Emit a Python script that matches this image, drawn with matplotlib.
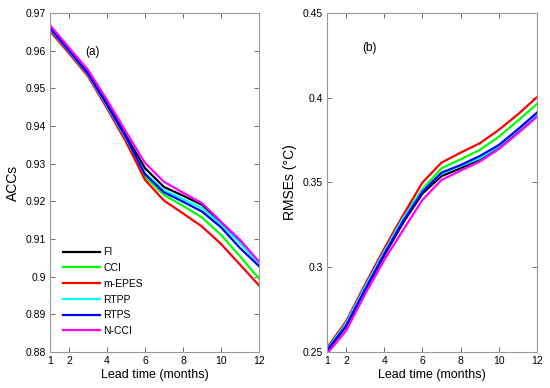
import numpy as np
import matplotlib
matplotlib.use("Agg")
import matplotlib.pyplot as plt
from matplotlib.ticker import FuncFormatter

plt.rcParams['font.family'] = ['Liberation Sans', 'DejaVu Sans']

# -------------------- data --------------------
lead = [1, 2, 3, 4, 5, 6, 7, 8, 9, 10, 11, 12]
names = ["FI", "CCI", "m-EPES", "RTPP", "RTPS", "N-CCI"]
colors = ["#000000", "#00ff00", "#ff0000", "#00ffff", "#0000ff", "#ff00ff"]

acc_fi    = [0.9662, 0.9603, 0.9542, 0.9460, 0.9374, 0.9288, 0.9238, 0.9215, 0.9191, 0.9143, 0.9094, 0.9037]
acc_cci   = [0.9655, 0.9596, 0.9535, 0.9450, 0.9363, 0.9265, 0.9217, 0.9188, 0.9157, 0.9111, 0.9054, 0.8995]
acc_mepes = [0.9652, 0.9593, 0.9532, 0.9447, 0.9358, 0.9257, 0.9202, 0.9168, 0.9133, 0.9087, 0.9032, 0.8977]
acc_rtpp  = [0.9658, 0.9598, 0.9537, 0.9453, 0.9367, 0.9275, 0.9229, 0.9206, 0.9182, 0.9138, 0.9089, 0.9034]
acc_rtps  = [0.9660, 0.9600, 0.9539, 0.9456, 0.9370, 0.9272, 0.9224, 0.9199, 0.9173, 0.9131, 0.9076, 0.9028]
acc_ncci  = [0.9668, 0.9608, 0.9549, 0.9469, 0.9385, 0.9302, 0.9252, 0.9223, 0.9195, 0.9146, 0.9098, 0.9040]

rmse_fi    = [0.2505, 0.2650, 0.2865, 0.3070, 0.3265, 0.3435, 0.3538, 0.3584, 0.3636, 0.3712, 0.3802, 0.3898]
rmse_cci   = [0.2520, 0.2672, 0.2890, 0.3098, 0.3298, 0.3460, 0.3584, 0.3637, 0.3692, 0.3770, 0.3865, 0.3963]
rmse_mepes = [0.2525, 0.2680, 0.2900, 0.3110, 0.3310, 0.3500, 0.3617, 0.3676, 0.3731, 0.3810, 0.3902, 0.4003]
rmse_rtpp  = [0.2515, 0.2668, 0.2885, 0.3092, 0.3292, 0.3452, 0.3553, 0.3598, 0.3643, 0.3715, 0.3808, 0.3902]
rmse_rtps  = [0.2510, 0.2655, 0.2870, 0.3078, 0.3275, 0.3445, 0.3558, 0.3603, 0.3656, 0.3721, 0.3814, 0.3912]
rmse_ncci  = [0.2490, 0.2625, 0.2842, 0.3043, 0.3222, 0.3397, 0.3515, 0.3570, 0.3623, 0.3697, 0.3790, 0.3888]

acc_series = [acc_fi, acc_cci, acc_mepes, acc_rtpp, acc_rtps, acc_ncci]
rmse_series = [rmse_fi, rmse_cci, rmse_mepes, rmse_rtpp, rmse_rtps, rmse_ncci]

xticks = [1, 2, 4, 6, 8, 10, 12]
acc_ticks = [0.88, 0.89, 0.90, 0.91, 0.92, 0.93, 0.94, 0.95, 0.96, 0.97]
rmse_ticks = [0.25, 0.30, 0.35, 0.40, 0.45]

# -------------------- figure --------------------
fig = plt.figure(figsize=(5.5, 3.88), dpi=100)
ax1 = fig.add_axes([0.0909, 0.0928, 0.38, 0.8737])
ax2 = fig.add_axes([0.5945, 0.0928, 0.3818, 0.8737])

fmt = FuncFormatter(lambda v, p: "%g" % round(v, 4))


def style_axes(ax, yticks, ylabel):
    ax.set_xlim(1, 12)
    ax.set_ylim(yticks[0], yticks[-1])
    ax.set_xticks(xticks)
    ax.set_yticks(yticks)
    ax.yaxis.set_major_formatter(fmt)
    ax.tick_params(direction='in', top=True, right=True, length=3.5, width=0.6,
                   labelsize=7.5, color='#555555', pad=3)
    for s in ax.spines.values():
        s.set_color('#999999')
        s.set_linewidth(0.8)
    ax.set_xlabel("Lead time (months)", fontsize=9, labelpad=2)
    ax.set_ylabel(ylabel, fontsize=10, labelpad=4)


for name, col, vals in zip(names, colors, acc_series):
    ax1.plot(lead, vals, color=col, lw=1.6, label=name)
style_axes(ax1, acc_ticks, "ACCs")
ax1.text(3.25, 0.9597, "(a)", fontsize=8.5, ha='center', va='center')
ax1.legend(loc='lower left', bbox_to_anchor=(0.04, 0.035), frameon=False, fontsize=7.5,
           handlelength=3.6, handletextpad=0.3, labelspacing=0.55, borderaxespad=0)

for name, col, vals in zip(names, colors, rmse_series):
    ax2.plot(lead, vals, color=col, lw=1.6, label=name)
style_axes(ax2, rmse_ticks, "RMSEs (\u00b0C)")
ax2.text(3.25, 0.4294, "(b)", fontsize=8.5, ha='center', va='center')

fig.savefig("out.png", dpi=100)
